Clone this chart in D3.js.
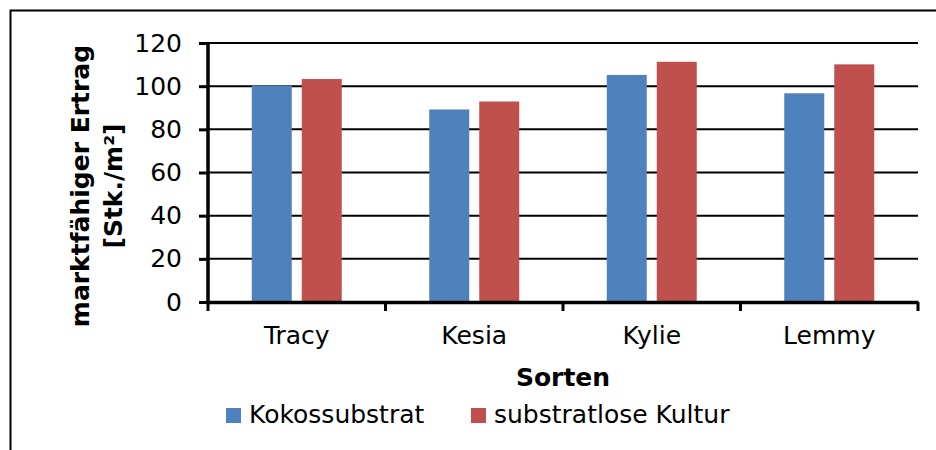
<!DOCTYPE html>
<html>
<head>
<meta charset="utf-8">
<script src="https://cdn.jsdelivr.net/npm/d3@7"></script>
<style>
  body { margin: 0; background: #fff; }
  svg text { font-family: "DejaVu Sans", sans-serif; fill: #000; }
</style>
</head>
<body>
<svg id="chart"></svg>
<script>
const sorten = ['Tracy', 'Kesia', 'Kylie', 'Lemmy'];
const seriesNames = ['Kokossubstrat', 'substratlose Kultur'];
const kokos = [100.3, 89.2, 105.2, 96.7];
const substratlos = [103.3, 92.9, 111.3, 110.1];
const yTicks = [0, 20, 40, 60, 80, 100, 120];
const colors = ['#4f81bd', '#c0504d'];

const width = 936;
const height = 450;
const fontSize = 25;

const svg = d3.select('#chart')
  .attr('width', width)
  .attr('height', height);

// outer frame (runs off the right and bottom edge)
svg.append('rect')
  .attr('x', 10.5)
  .attr('y', 10.5)
  .attr('width', 940)
  .attr('height', 460)
  .attr('fill', 'none')
  .attr('stroke', '#000')
  .attr('stroke-width', 2);

const scaleX = d3.scaleBand()
  .domain(sorten)
  .range([208, 918]);

const scaleY = d3.scaleLinear()
  .domain([0, 120])
  .range([302, 43]);

const inner = d3.scaleBand()
  .domain(seriesNames)
  .range([0, 90])
  .paddingInner(0.2);

// gridlines
svg.append('g')
  .selectAll('line')
  .data(yTicks.slice(1))
  .enter().append('line')
  .attr('x1', 208)
  .attr('x2', 918)
  .attr('y1', d => scaleY(d))
  .attr('y2', d => scaleY(d))
  .attr('stroke', '#000')
  .attr('stroke-width', 2);

// bars
const rows = sorten.map((s, i) => ({ sorte: s, values: [kokos[i], substratlos[i]] }));

const group = svg.selectAll('g.sorte')
  .data(rows)
  .enter().append('g')
  .attr('class', 'sorte')
  .attr('transform', d => `translate(${scaleX(d.sorte) + scaleX.bandwidth() / 2 - 45},0)`);

group.selectAll('rect')
  .data(d => d.values.map((v, j) => ({ name: seriesNames[j], value: v, j })))
  .enter().append('rect')
  .attr('x', d => inner(d.name))
  .attr('y', d => scaleY(d.value))
  .attr('width', inner.bandwidth())
  .attr('height', d => scaleY(0) - scaleY(d.value))
  .attr('fill', d => colors[d.j]);

// y axis
const yAxis = svg.append('g')
  .attr('transform', 'translate(208,0)')
  .attr('font-family', null)
  .call(d3.axisLeft(scaleY).tickValues(yTicks).tickSize(9).tickPadding(17));
yAxis.attr('font-family', null).attr('font-size', fontSize);
yAxis.select('.domain').attr('stroke-width', 3.5).attr('d', `M0,${scaleY(120)}V${scaleY(0)}`);
yAxis.selectAll('.tick line').attr('stroke-width', 3);

// x axis
const xAxis = svg.append('g')
  .attr('transform', 'translate(0,302)')
  .call(d3.axisBottom(scaleX).tickSize(0).tickPadding(24));
xAxis.attr('font-family', null).attr('font-size', fontSize);
xAxis.select('.domain').attr('stroke-width', 3.5);

const boundaries = sorten.map(s => scaleX(s)).concat([918]);
xAxis.selectAll('line.bound')
  .data(boundaries)
  .enter().append('line')
  .attr('class', 'bound')
  .attr('x1', d => d)
  .attr('x2', d => d)
  .attr('y1', 0)
  .attr('y2', 9)
  .attr('stroke', '#000')
  .attr('stroke-width', 3);

// axis titles
svg.append('text')
  .attr('x', 563)
  .attr('y', 386)
  .attr('text-anchor', 'middle')
  .attr('font-size', fontSize)
  .attr('font-weight', 'bold')
  .attr('font-family', '"DejaVu Sans Condensed", sans-serif')
  .text('Sorten');

const yTitle = svg.append('text')
  .attr('transform', 'translate(0,186) rotate(-90)')
  .attr('text-anchor', 'middle')
  .attr('font-size', fontSize)
  .attr('font-weight', 'bold')
  .attr('font-family', '"DejaVu Sans Condensed", sans-serif');
yTitle.append('tspan').attr('x', 0).attr('y', 89).text('marktfähiger Ertrag');
yTitle.append('tspan').attr('x', 0).attr('y', 122).text('[Stk./m²]');

// legend
const legendX = [226, 471];
const legend = svg.selectAll('g.legend')
  .data(seriesNames)
  .enter().append('g')
  .attr('class', 'legend')
  .attr('transform', (d, i) => `translate(${legendX[i]},408)`);

legend.append('rect')
  .attr('width', 15)
  .attr('height', 15)
  .attr('fill', (d, i) => colors[i]);

legend.append('text')
  .attr('x', 23)
  .attr('y', 15)
  .attr('font-size', fontSize)
  .text(d => d);
</script>
</body>
</html>
